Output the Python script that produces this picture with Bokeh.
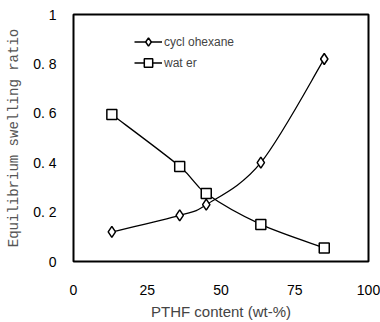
from bokeh.plotting import figure
from bokeh.models import FixedTicker, Range1d, Legend, LegendItem, CustomJSTickFormatter
from bokeh.embed import file_html
from bokeh.resources import INLINE

pthf = [13, 36, 45, 63.5, 85]
cyclohexane = [0.12, 0.187, 0.23, 0.40, 0.82]
water = [0.595, 0.385, 0.275, 0.15, 0.055]
x_ticks = [0, 25, 50, 75, 100]
y_ticks = [0, 0.2, 0.4, 0.6, 0.8, 1]
y_tick_labels = ["0", "0. 2", "0. 4", "0. 6", "0. 8", "1"]
series_names = ["cycl ohexane", "wat er"]

p = figure(width=380, height=322, output_backend="svg", toolbar_location=None,
           x_range=Range1d(0, 100), y_range=Range1d(0, 1),
           min_border_left=73, min_border_right=12, min_border_top=14, min_border_bottom=59)
p.background_fill_color = "white"
p.border_fill_color = "white"
p.outline_line_color = "black"
p.outline_line_width = 2
p.xgrid.visible = False
p.ygrid.visible = False


def smooth_segments(xs, ys):
    # Bezier control points (Catmull-Rom style smoothing, as in spreadsheet "smoothed lines")
    n = len(xs)
    x0s, y0s, x1s, y1s, cx0, cy0, cx1, cy1 = [], [], [], [], [], [], [], []
    for i in range(n - 1):
        pm = i - 1 if i > 0 else i
        pp = i + 2 if i + 2 < n else i + 1
        x0s.append(xs[i]); y0s.append(ys[i])
        x1s.append(xs[i + 1]); y1s.append(ys[i + 1])
        cx0.append(xs[i] + (xs[i + 1] - xs[pm]) / 6.0)
        cy0.append(ys[i] + (ys[i + 1] - ys[pm]) / 6.0)
        cx1.append(xs[i + 1] - (xs[pp] - xs[i]) / 6.0)
        cy1.append(ys[i + 1] - (ys[pp] - ys[i]) / 6.0)
    return dict(x0=x0s, y0=y0s, x1=x1s, y1=y1s, cx0=cx0, cy0=cy0, cx1=cx1, cy1=cy1)


for ys in (cyclohexane, water):
    p.bezier(**smooth_segments(pthf, ys), line_color="black", line_width=1.3)

r1 = p.scatter(pthf, cyclohexane, marker="diamond", size=11, fill_color="white",
               line_color="black", line_width=1.5)
r2 = p.scatter(pthf, water, marker="square", size=10, fill_color="white",
               line_color="black", line_width=1.5)

# line renderers used only for the legend swatches (no data drawn)
nan = float("nan")
lg1 = p.line([nan], [nan], line_color="black", line_width=1.5)
lg2 = p.line([nan], [nan], line_color="black", line_width=1.5)

legend = Legend(items=[LegendItem(label=series_names[0], renderers=[lg1, r1]),
                       LegendItem(label=series_names[1], renderers=[lg2, r2])],
                location=(61, 188), background_fill_alpha=0, border_line_color=None,
                label_text_font="Liberation Sans", label_text_font_size="12px",
                glyph_width=28, glyph_height=21, label_height=21, spacing=0,
                padding=0, margin=0, label_standoff=2)
p.add_layout(legend, "center")

p.xaxis.ticker = FixedTicker(ticks=x_ticks)
p.yaxis.ticker = FixedTicker(ticks=y_ticks)
p.yaxis.formatter = CustomJSTickFormatter(
    args=dict(tvals=y_ticks, tlabels=y_tick_labels),
    code="""
    for (let i = 0; i < tvals.length; i++) {
        if (Math.abs(tick - tvals[i]) < 1e-9) return tlabels[i];
    }
    return String(tick);
    """)
for ax in (p.xaxis[0], p.yaxis[0]):
    ax.axis_line_color = None
    ax.major_tick_line_color = None
    ax.minor_tick_line_color = None
    ax.major_label_text_font = "Liberation Sans"
    ax.major_label_text_font_size = "14px"
    ax.major_label_text_color = "black"
p.xaxis.major_label_standoff = 17
p.yaxis.major_label_standoff = 11

p.xaxis.axis_label = "PTHF content (wt-%)"
p.xaxis.axis_label_text_font = "Liberation Sans"
p.xaxis.axis_label_text_font_size = "15px"
p.xaxis.axis_label_text_font_style = "normal"
p.xaxis.axis_label_standoff = 5

p.yaxis.axis_label = "Equilibrium swelling ratio"
p.yaxis.axis_label_text_font = "Liberation Mono"
p.yaxis.axis_label_text_font_size = "14px"
p.yaxis.axis_label_text_font_style = "normal"
p.yaxis.axis_label_text_color = "#555555"
p.yaxis.axis_label_standoff = 8

open("out.html", "w").write(file_html(p, INLINE))
